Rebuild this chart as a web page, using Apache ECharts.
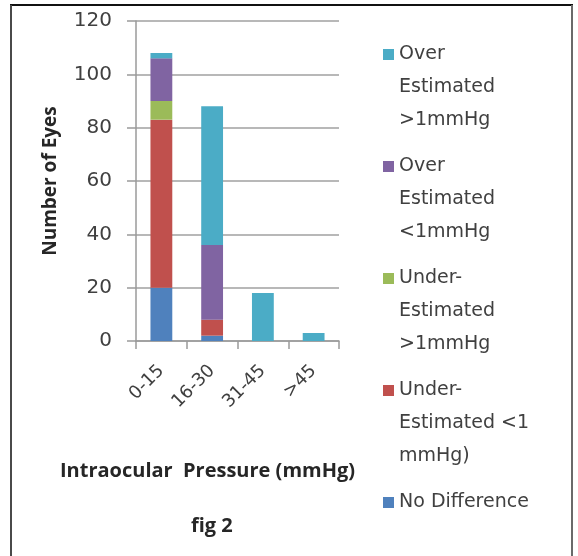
<!DOCTYPE html>
<html>
<head>
<meta charset="utf-8">
<script src="https://cdn.jsdelivr.net/npm/echarts@6/dist/echarts.min.js"></script>
<style>
  html, body { margin: 0; padding: 0; background: #fff; }
  #chart { width: 578px; height: 556px; }
</style>
</head>
<body>
<div id="chart"></div>
<script>
// pressure bands on the x axis
const categories = ['0-15', '16-30', '31-45', '>45'];

// number of eyes per band, bottom of the stack first
const noDifference = [20, 2, 0, 0];
const underLt1 = [63, 6, 0, 0];
const underGt1 = [7, 0, 0, 0];
const overLt1 = [16, 28, 0, 0];
const overGt1 = [2, 52, 18, 3];

const yTicks = { min: 0, max: 120, interval: 20 };

const seriesDefs = [
  { name: 'No Difference', data: noDifference, color: '#4F81BD' },
  { name: 'Under-\nEstimated <1\nmmHg)', data: underLt1, color: '#C0504D' },
  { name: 'Under-\nEstimated\n>1mmHg', data: underGt1, color: '#9BBB59' },
  { name: 'Over\nEstimated\n<1mmHg', data: overLt1, color: '#8064A2' },
  { name: 'Over\nEstimated\n>1mmHg', data: overGt1, color: '#4BACC6' }
];

const chart = echarts.init(document.getElementById('chart'));

// square sits at the first text line of a 3-line legend entry
const legendIcon = 'path://M0,0L0.01,0M0,99L0.01,99M0,11h11v11h-11z';

const option = {
  animation: false,
  title: {
    text: 'fig 2',
    left: 186,
    top: 511,
    textStyle: { fontFamily: 'Open Sans', fontWeight: 'bold', fontSize: 20, color: '#262626' }
  },
  grid: { left: 136, right: 239, top: 21, bottom: 215 },
  legend: {
    orient: 'vertical',
    left: 383,
    top: 38,
    height: 700,
    padding: 0,
    itemGap: 13,
    itemWidth: 11,
    itemHeight: 99,
    icon: legendIcon,
    data: seriesDefs.map(s => s.name).reverse(),
    // single-line entry gets blank lines so its square lines up like the others
    formatter: name => (name.indexOf('\n') < 0 ? name + '\n \n ' : name),
    textStyle: { fontFamily: 'DejaVu Sans', fontSize: 19, color: '#404040', lineHeight: 33 }
  },
  xAxis: {
    type: 'category',
    data: categories,
    name: 'Intraocular  Pressure (mmHg)',
    nameLocation: 'middle',
    nameGap: 120,
    nameTextStyle: { fontFamily: 'Open Sans', fontWeight: 'bold', fontSize: 20, color: '#262626', padding: [0, 60, 0, 0] },
    axisLine: { lineStyle: { color: '#9a9a9a', width: 1.5 } },
    axisTick: { show: true, length: 8, lineStyle: { color: '#9a9a9a', width: 1.5 } },
    axisLabel: { rotate: 45, margin: 27, fontFamily: 'DejaVu Sans', fontSize: 18, color: '#404040' }
  },
  yAxis: {
    type: 'value',
    min: yTicks.min,
    max: yTicks.max,
    interval: yTicks.interval,
    name: 'Number of Eyes',
    nameLocation: 'middle',
    nameGap: 76,
    nameTextStyle: { fontFamily: 'Open Sans', fontWeight: 'bold', fontSize: 19, color: '#262626' },
    axisLine: { show: true, lineStyle: { color: '#9a9a9a', width: 1.5 } },
    axisTick: { show: true, length: 9, lineStyle: { color: '#9a9a9a', width: 1.5 } },
    axisLabel: { margin: 24, fontFamily: 'DejaVu Sans', fontSize: 20, color: '#404040' },
    splitLine: { lineStyle: { color: '#a0a0a0', width: 1.5 } }
  },
  series: seriesDefs.map(s => ({
    name: s.name,
    type: 'bar',
    stack: 'eyes',
    barWidth: '43%',
    data: s.data,
    itemStyle: { color: s.color }
  })),
  graphic: [
    { type: 'line', shape: { x1: 10, y1: 5, x2: 573, y2: 5 }, style: { stroke: '#111', lineWidth: 2 } },
    { type: 'line', shape: { x1: 11, y1: 5, x2: 11, y2: 556 }, style: { stroke: '#4a4a4a', lineWidth: 2 } },
    { type: 'line', shape: { x1: 572, y1: 5, x2: 572, y2: 556 }, style: { stroke: '#6a6a6a', lineWidth: 2 } }
  ]
};

chart.setOption(option);
</script>
</body>
</html>
